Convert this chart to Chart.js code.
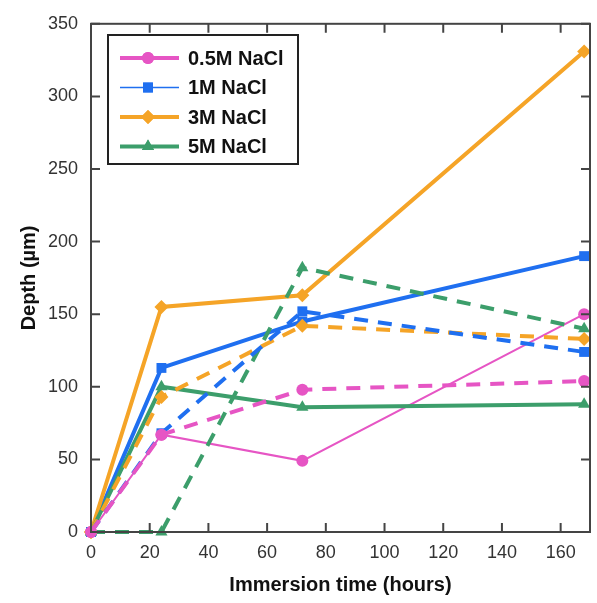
<!DOCTYPE html>
<html>
<head>
<meta charset="utf-8">
<script src="https://cdn.jsdelivr.net/npm/chart.js@4/dist/chart.umd.min.js"></script>
<style>
  html, body { margin: 0; padding: 0; background: #fff; }
  #wrap { width: 597px; height: 603px; }
</style>
</head>
<body>
<div id="wrap"><canvas id="c" width="597" height="603"></canvas></div>
<script>
// Immersion times (hours)
const hours = [0, 24, 72, 168];

// Depth (um), solid lines
const nacl05 = [0, 67, 49, 150];
const nacl1 = [0, 113, 145, 190];
const nacl3 = [0, 155, 163, 331];
const nacl5 = [0, 100, 86, 88];

// Depth (um), dashed lines
const nacl05Dash = [0, 67, 98, 104];
const nacl1Dash = [0, 68, 152, 124];
const nacl3Dash = [0, 93, 142, 133];
const nacl5Dash = [0, 0, 182, 140];

const labels = ['0.5M NaCl', '1M NaCl', '3M NaCl', '5M NaCl'];
const xTicks = [0, 20, 40, 60, 80, 100, 120, 140, 160];
const yTicks = [0, 50, 100, 150, 200, 250, 300, 350];

const colors = { pink: '#e655c4', blue: '#1f6ff0', orange: '#f5a427', green: '#3c9e6b' };

const pts = arr => arr.map((v, i) => ({ x: hours[i], y: v }));

function series(label, data, color, marker, size, width, dashed) {
  return {
    label: label, data: pts(data),
    borderColor: color, backgroundColor: color,
    borderWidth: width, borderDash: dashed ? [14, 10] : [],
    pointStyle: marker, pointRadius: size, pointBorderWidth: 0,
    tension: 0, clip: false, showInLegend: !dashed
  };
}

const datasets = [
  series(labels[0], nacl05Dash, colors.pink, 'circle', 6, 4, true),
  series(labels[1], nacl1Dash, colors.blue, 'rect', 7, 4, true),
  series(labels[2], nacl3Dash, colors.orange, 'rectRot', 7, 4, true),
  series(labels[3], nacl5Dash, colors.green, 'triangle', 7, 4, true),
  series(labels[3], nacl5, colors.green, 'triangle', 7, 4, false),
  series(labels[2], nacl3, colors.orange, 'rectRot', 7, 4, false),
  series(labels[1], nacl1, colors.blue, 'rect', 7, 4, false),
  series(labels[0], nacl05, colors.pink, 'circle', 6, 2, false)
];

// frame, inward ticks and the boxed legend
const framePlugin = {
  id: 'frame',
  afterDraw(chart) {
    const { ctx, chartArea: a, scales: { x, y } } = chart;
    ctx.save();
    ctx.strokeStyle = '#444'; ctx.lineWidth = 2;
    ctx.strokeRect(a.left, a.top, a.right - a.left, a.bottom - a.top);
    ctx.beginPath();
    const t = 9;
    xTicks.forEach(v => {
      const px = x.getPixelForValue(v);
      ctx.moveTo(px, a.bottom); ctx.lineTo(px, a.bottom - t);
      ctx.moveTo(px, a.top); ctx.lineTo(px, a.top + t);
    });
    yTicks.forEach(v => {
      const py = y.getPixelForValue(v);
      ctx.moveTo(a.left, py); ctx.lineTo(a.left + t, py);
      ctx.moveTo(a.right, py); ctx.lineTo(a.right - t, py);
    });
    ctx.stroke();

    // legend box
    ctx.fillStyle = '#fff';
    ctx.fillRect(108, 35, 190, 129);
    ctx.strokeStyle = '#222'; ctx.lineWidth = 2;
    ctx.strokeRect(108, 35, 190, 129);
    const items = chart.data.datasets.filter(d => d.showInLegend).reverse();
    ctx.font = 'bold 20px "Liberation Sans", Arial, sans-serif';
    ctx.textBaseline = 'middle';
    items.forEach((d, i) => {
      const yy = 58 + i * 29.5;
      ctx.strokeStyle = d.borderColor;
      ctx.lineWidth = d.label === '1M NaCl' ? 1.5 : 4;
      ctx.beginPath(); ctx.moveTo(120, yy); ctx.lineTo(179, yy); ctx.stroke();
      ctx.fillStyle = d.borderColor;
      ctx.beginPath();
      Chart.helpers.drawPoint(ctx, { pointStyle: d.pointStyle, radius: d.pointRadius, borderWidth: 0 }, 148, yy);
      ctx.fill();
      ctx.fillStyle = '#111';
      ctx.fillText(d.label, 188, yy + 1);
    });
    ctx.restore();
  }
};

new Chart(document.getElementById('c').getContext('2d'), {
  type: 'line',
  data: { datasets: datasets },
  plugins: [framePlugin],
  options: {
    responsive: false, animation: false,
    layout: { padding: { top: 15, right: 7, left: 0, bottom: 0 } },
    plugins: { legend: { display: false }, tooltip: { enabled: false } },
    scales: {
      x: {
        type: 'linear', min: 0, max: 170,
        grid: { display: false, drawTicks: false },
        border: { display: false },
        ticks: { stepSize: 20, includeBounds: false, padding: 10, color: '#333', font: { family: '"Liberation Sans", Arial', size: 18 } },
        title: { display: true, text: 'Immersion time (hours)', color: '#111', padding: { top: 2, bottom: 6 }, font: { family: '"Liberation Sans", Arial', size: 20, weight: 'bold' } },
        afterFit: s => { s.height = 71; }
      },
      y: {
        min: 0, max: 350,
        grid: { display: false, drawTicks: false },
        border: { display: false },
        ticks: { stepSize: 50, padding: 13, color: '#333', font: { family: '"Liberation Sans", Arial', size: 18 } },
        title: { display: true, text: 'Depth (µm)', color: '#111', padding: { top: 17, bottom: 0 }, font: { family: '"Liberation Sans", Arial', size: 20, weight: 'bold' } },
        afterFit: s => { s.width = 91; }
      }
    }
  }
});
</script>
</body>
</html>
